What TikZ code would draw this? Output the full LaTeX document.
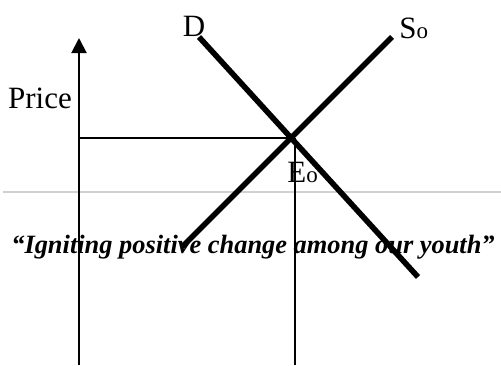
\documentclass[tikz,border=0pt]{standalone}
\usepackage{fontspec}
\setmainfont{Liberation Serif}
\usepackage{tikz}
\usetikzlibrary{arrows.meta,positioning,calc}

\begin{document}
\begin{tikzpicture}[
    x=0.5pt, y=-0.5pt,
    % --- STYLES ---
    curve/.style={line width=2.8pt, line cap=butt},
    guide/.style={line width=1pt},
    axis/.style={line width=1pt, -{Triangle[length=7.5pt,width=7.5pt]}},
    lbl/.style={font=\fontsize{15.5}{18}\selectfont, inner sep=0pt},
    quote/.style={font=\fontsize{13.2}{15}\selectfont\bfseries\itshape, inner sep=0pt},
    rule/.style={line width=1pt, draw=black!18}
]

% ===== 1. FRAME =====
\useasboundingbox (0,0) rectangle (501,365);

% ===== 2. COORDINATES =====
\coordinate (ybot) at (79,365);
\coordinate (ytop) at (79,38);
\coordinate (d1) at (199,37);
\coordinate (d2) at (418,277);
\coordinate (s1) at (182,247);
\coordinate (s2) at (392,37);
\coordinate (eq) at (intersection of d1--d2 and s1--s2);
\coordinate (pe) at (ytop |- eq);
\coordinate (qe) at ($(eq)+(4,0)$);
\coordinate (qbot) at (qe |- ybot);

% ===== 3. LABELS =====
\node[lbl, anchor=base] (price) at (40,108) {Price};
\node[lbl, anchor=base] (dlab) at (194,36) {D};
\node[lbl, anchor=base west] (slab) at (399,38) {S{\fontsize{11.5}{12}\selectfont o}};
\node[lbl, anchor=base west] (elab) at (287,182) {E{\fontsize{11.5}{12}\selectfont o}};

% gray rule behind the quote
\draw[rule] (3,192) coordinate (r1) -- (501,192) coordinate (r2);

% ===== 4. LINES =====
\draw[axis] (ybot) -- (ytop);
\draw[guide] (pe) -- (eq);
\draw[guide] (qe) -- (qbot);
\draw[curve] (d1) -- (d2);
\draw[curve] (s1) -- (s2);

% ===== 5. QUOTE =====
\node[quote, anchor=base] (motto) at (253,253) {“Igniting positive change among our youth”};

\end{tikzpicture}
\end{document}
